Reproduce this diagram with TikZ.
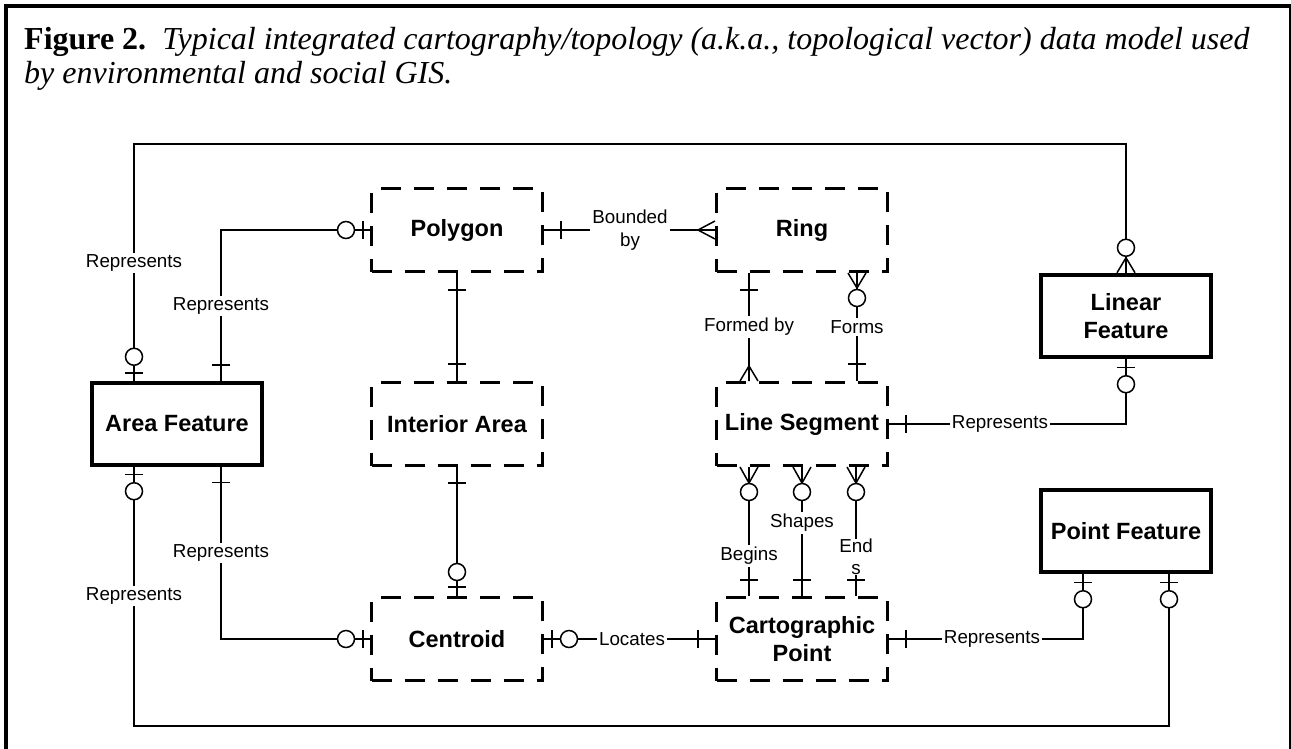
\documentclass[tikz,border=0pt]{standalone}
\usepackage{fontspec}
\setmainfont{Liberation Serif}
\newfontfamily\arialf{Liberation Sans}
\usetikzlibrary{calc}
\begin{document}
\begin{tikzpicture}[x=1pt,y=-1pt,
  conn/.style={line width=1.5pt},
  ent/.style={draw, line width=4.5pt, minimum width=170pt, minimum height=82pt, inner sep=2pt, align=center, font=\arialf\bfseries\fontsize{23.5}{28}\selectfont},
  weak/.style={draw, line width=3pt, dash pattern=on 20pt off 13pt, minimum width=171pt, minimum height=83pt, inner sep=2pt, align=center, font=\arialf\bfseries\fontsize{23.5}{28}\selectfont},
  lbl/.style={fill=white, inner sep=2pt, align=center, font=\arialf\fontsize{18.8}{23}\selectfont},
  ttl/.style={anchor=base west, inner sep=0pt, font=\fontsize{32}{34}\selectfont},
  erbar/.pic={\draw[conn] (-#1,-9) -- (-#1,9);},
  ercirc/.pic={\draw[conn,fill=white] (-#1,0) circle (8.5);},
  ercrow/.pic={\draw[conn] (0,-9) -- (-#1,0) -- (0,9) (0,0) -- (-#1,0);},
]
\useasboundingbox (0,0) rectangle (1291,748);
% frame
\draw[line width=4pt] (6,760) -- (6,6) -- (1290,6);
\draw[line width=2pt] (1290,4) -- (1290,760);
% title
\node[ttl] (title1) at (24,49) {\textbf{Figure 2.}\hspace{0.5em}\textit{Typical integrated cartography/topology (a.k.a., topological vector) data model used}};
\node[ttl] (title2) at (24,83) {\textit{by environmental and social GIS.}};
% entities
\node[ent]  (AF)   at (177,424) {Area Feature};
\node[weak] (Poly) at (457,230) {Polygon};
\node[weak] (Ring) at (802,230) {Ring};
\node[ent]  (LinF) at (1126,316) {Linear\\Feature};
\node[weak] (IA)   at (457,424) {Interior Area};
\node[weak] (LS)   at (802,424) {Line Segment};
\node[weak] (Cen)  at (457,639) {Centroid};
\node[weak] (CP)   at (802,639) {Cartographic\\Point};
\node[ent]  (PF)   at (1126,531) {Point Feature};
% helper coordinates
\coordinate (top) at (0,144);
\coordinate (bot) at (0,726);
\coordinate (a1) at ([xshift=-43pt]AF.north);
\coordinate (a2) at ([xshift=44pt]AF.north);
\coordinate (a3) at ([xshift=-43pt]AF.south);
\coordinate (a4) at ([xshift=44pt]AF.south);
\coordinate (r1) at ([xshift=-53pt]Ring.south);
\coordinate (r2) at ([xshift=55pt]Ring.south);
\coordinate (l1) at (r1 |- LS.north);
\coordinate (l2) at (r2 |- LS.north);
\coordinate (l3) at ([xshift=-53pt]LS.south);
\coordinate (l4) at (LS.south);
\coordinate (l5) at ([xshift=54pt]LS.south);
\coordinate (q3) at (l3 |- CP.north);
\coordinate (q4) at (CP.north);
\coordinate (q5) at (l5 |- CP.north);
\coordinate (p1) at ([xshift=-43pt]PF.south);
\coordinate (p2) at ([xshift=43pt]PF.south);
% connectors
\draw[conn] (a1) -- (a1 |- top) -| (LinF.north);
\draw[conn] (a2) |- (Poly.west);
\draw[conn] (Poly.south) -- (IA.north);
\draw[conn] (Poly.east) -- (Ring.west);
\draw[conn] (r1) -- (l1);
\draw[conn] (r2) -- (l2);
\draw[conn] (LS.east) -| (LinF.south);
\draw[conn] (IA.south) -- (Cen.north);
\draw[conn] (a3) -- (a3 |- bot) -| (p2);
\draw[conn] (a4) |- (Cen.west);
\draw[conn] (Cen.east) -- (CP.west);
\draw[conn] (CP.east) -| (p1);
\draw[conn] (l3) -- (q3);
\draw[conn] (l4) -- (q4);
\draw[conn] (l5) -- (q5);
% labels
\node[lbl] (t1)  at (134,263) {Represents};
\node[lbl] (t2)  at (221,306) {Represents};
\node[lbl] (t3)  at (630,230) {Bounded\\by};
\node[lbl] (t4)  at (749,327) {Formed by};
\node[lbl] (t5)  at (857,327) {Forms};
\node[lbl] (t6)  at (1000,424) {Represents};
\node[lbl] (t7)  at (134,596) {Represents};
\node[lbl] (t8)  at (221,553) {Represents};
\node[lbl] (t9)  at (632,639) {Locates};
\node[lbl] (t10) at (992,639) {Represents};
\node[lbl] (t11) at (749,556) {Begins};
\node[lbl] (t12) at (802,523) {Shapes};
\node[lbl,inner sep=0pt,font=\arialf\fontsize{18.8}{22}\selectfont] (t13) at (856,557) {End\\s};
% cardinality marks
\pic[rotate=-90] at (a1) {ercirc=24};
\pic[rotate=-90] at (a1) {erbar=8};
\pic[rotate=-90] at (LinF.north) {ercrow=15};
\pic[rotate=-90] at (LinF.north) {ercirc=25};
\pic[rotate=-90] at (a2) {erbar=16};
\pic at (Poly.west) {ercirc=24};
\pic at (Poly.west) {erbar=7};
\pic[rotate=90] at (Poly.south) {erbar=17};
\pic[rotate=-90] at (IA.north) {erbar=17};
\pic[rotate=180] at (Poly.east) {erbar=17};
\pic at (Ring.west) {ercrow=17};
\pic[rotate=90] at (r1) {erbar=17};
\pic[rotate=-90] at (l1) {ercrow=15};
\pic[rotate=90] at (r2) {ercrow=15};
\pic[rotate=90] at (r2) {ercirc=25};
\pic[rotate=-90] at (l2) {erbar=17};
\pic[rotate=180] at (LS.east) {erbar=17};
\pic[rotate=90] at (LinF.south) {erbar=8};
\pic[rotate=90] at (LinF.south) {ercirc=25};
\pic[rotate=90] at (IA.south) {erbar=16};
\pic[rotate=-90] at (Cen.north) {ercirc=24};
\pic[rotate=-90] at (Cen.north) {erbar=9};
\pic[rotate=90] at (a3) {erbar=7};
\pic[rotate=90] at (a3) {ercirc=24};
\pic[rotate=90] at (p2) {erbar=8};
\pic[rotate=90] at (p2) {ercirc=25};
\pic[rotate=90] at (a4) {erbar=15};
\pic at (Cen.west) {ercirc=24};
\pic at (Cen.west) {erbar=7};
\pic[rotate=180] at (Cen.east) {erbar=8};
\pic[rotate=180] at (Cen.east) {ercirc=25};
\pic at (CP.west) {erbar=17};
\pic[rotate=180] at (CP.east) {erbar=17};
\pic[rotate=90] at (p1) {erbar=8};
\pic[rotate=90] at (p1) {ercirc=25};
\pic[rotate=90] at (l3) {ercrow=16};
\pic[rotate=90] at (l3) {ercirc=25};
\pic[rotate=90] at (l4) {ercrow=16};
\pic[rotate=90] at (l4) {ercirc=25};
\pic[rotate=90] at (l5) {ercrow=16};
\pic[rotate=90] at (l5) {ercirc=25};
\pic[rotate=-90] at (q3) {erbar=16};
\pic[rotate=-90] at (q4) {erbar=16};
\pic[rotate=-90] at (q5) {erbar=16};
\end{tikzpicture}
\end{document}
